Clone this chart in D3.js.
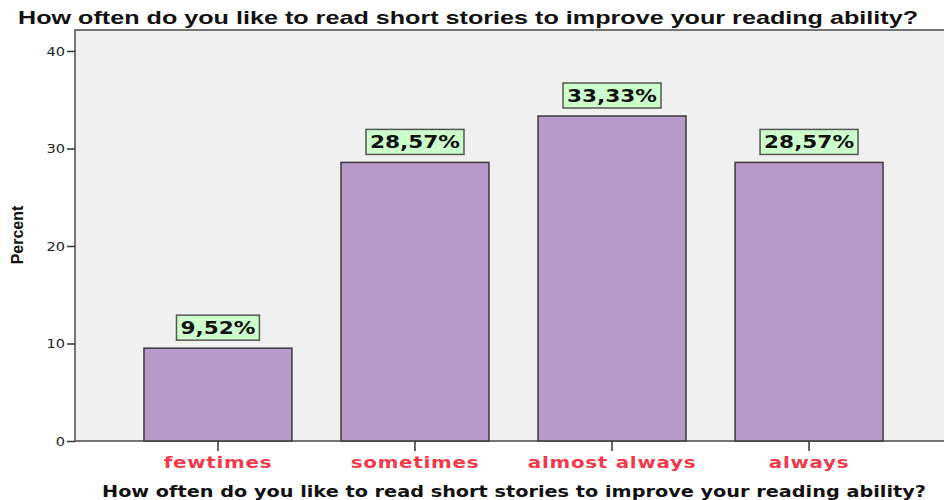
<!doctype html>
<html lang="en">
  <head>
    <meta charset="utf-8">
    <script src="https://d3js.org/d3.v7.min.js"></script>
    <title>Reading short stories</title>
    <style>
      body { margin: 0; background: #fff; }
      text { font-family: "Liberation Sans", Arial, sans-serif; }
    </style>
  </head>
  <body>
    <svg width="944" height="500"></svg>
    <script>
      // values
      const categories = ["fewtimes", "sometimes", "almost always", "always"];
      const percents = [9.52, 28.57, 33.33, 28.57];
      const labels = ["9,52%", "28,57%", "33,33%", "28,57%"];
      const yTicks = [0, 10, 20, 30, 40];
      const titleText = "How often do you like to read short stories to improve your reading ability?";

      const svg = d3.select("svg");
      const plotLeft = 75, plotRight = 952, plotTop = 30, plotBottom = 441;

      // the original fonts are wider than ours, so stretch text a little
      function widen(sel, k) {
        sel.each(function () {
          const len = this.getComputedTextLength();
          d3.select(this).attr("textLength", len * k).attr("lengthAdjust", "spacingAndGlyphs");
        });
      }

      const x = d3.scaleBand()
        .domain(categories)
        .range([plotLeft, plotRight])
        .paddingInner(0.249)
        .paddingOuter(0.35);

      const y = d3.scaleLinear()
        .domain([0, 42.15])
        .range([plotBottom, plotTop]);

      // plot background + frame
      svg.append("rect")
        .attr("x", plotLeft).attr("y", plotTop)
        .attr("width", plotRight - plotLeft).attr("height", plotBottom - plotTop)
        .attr("fill", "#f0f0f0")
        .attr("stroke", "#4a4a4a")
        .attr("stroke-width", 1.5);

      // bars
      svg.append("g")
        .selectAll("rect")
        .data(categories)
        .enter().append("rect")
        .attr("x", d => x(d))
        .attr("y", (d, i) => y(percents[i]))
        .attr("width", x.bandwidth())
        .attr("height", (d, i) => plotBottom - y(percents[i]))
        .attr("fill", "#b89ac9")
        .attr("stroke", "#3a3a3a")
        .attr("stroke-width", 1.5);

      // y axis
      const yAxis = svg.append("g")
        .attr("transform", `translate(${plotLeft},0)`)
        .call(d3.axisLeft(y).tickValues(yTicks).tickSize(8).tickPadding(2));
      yAxis.select(".domain").remove();
      yAxis.selectAll(".tick line").attr("stroke", "#333").attr("stroke-width", 1.5);
      yAxis.selectAll(".tick text")
        .attr("fill", "#222")
        .style("font-family", "'DejaVu Sans', sans-serif")
        .style("font-size", "13px")
        .call(widen, 1.12);

      // x axis
      const xAxis = svg.append("g")
        .attr("transform", `translate(0,${plotBottom})`)
        .call(d3.axisBottom(x).tickSize(10).tickPadding(6));
      xAxis.select(".domain").remove();
      xAxis.selectAll(".tick line").attr("stroke", "#333").attr("stroke-width", 1.5);
      xAxis.selectAll(".tick text")
        .attr("fill", "#f2394a")
        .style("font-family", "'DejaVu Sans', sans-serif")
        .style("font-weight", "bold")
        .style("font-size", "16px")
        .style("letter-spacing", "0.6px")
        .call(widen, 1.24);

      // value labels
      const lab = svg.append("g")
        .selectAll("g")
        .data(categories)
        .enter().append("g")
        .attr("transform", (d, i) => `translate(${x(d) + x.bandwidth() / 2},${y(percents[i]) - 8})`);

      lab.append("text")
        .attr("text-anchor", "middle")
        .attr("y", -6)
        .style("font-family", "'DejaVu Sans', sans-serif")
        .style("font-weight", "bold")
        .style("font-size", "18px")
        .attr("fill", "#111")
        .text((d, i) => labels[i])
        .call(widen, 1.2)
        .each(function () {
          const b = this.getBBox();
          d3.select(this.parentNode).insert("rect", "text")
            .attr("x", b.x - 4).attr("y", -25)
            .attr("width", b.width + 8).attr("height", 25)
            .attr("fill", "#ccffcc")
            .attr("stroke", "#555")
            .attr("stroke-width", 1.5);
        });

      // titles
      svg.append("text")
        .attr("x", 468).attr("y", 24)
        .attr("text-anchor", "middle")
        .style("font-weight", "bold")
        .style("font-size", "19px")
        .attr("fill", "#111")
        .attr("textLength", 900)
        .attr("lengthAdjust", "spacingAndGlyphs")
        .text(titleText);

      svg.append("text")
        .attr("x", 514).attr("y", 497)
        .attr("text-anchor", "middle")
        .style("font-family", "'DejaVu Sans', sans-serif")
        .style("font-weight", "bold")
        .style("font-size", "15px")
        .attr("fill", "#111")
        .attr("textLength", 824)
        .attr("lengthAdjust", "spacingAndGlyphs")
        .text(titleText);

      svg.append("text")
        .attr("transform", "translate(23,235) rotate(-90)")
        .attr("text-anchor", "middle")
        .style("font-weight", "bold")
        .style("font-size", "16px")
        .attr("fill", "#111")
        .text("Percent");
    </script>
  </body>
</html>
